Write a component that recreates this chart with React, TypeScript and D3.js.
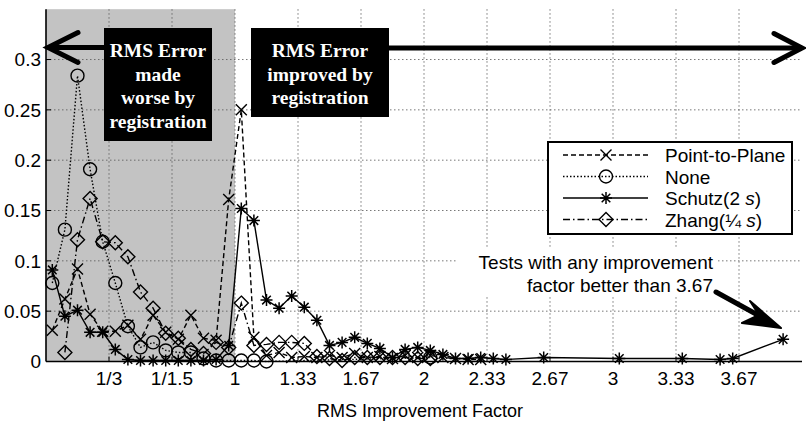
import React from 'react';
import * as d3 from 'd3';

const W = 806;
const H = 426;

// x axis: position units, ticks at 1..11
const xTickPos = [1, 2, 3, 4, 5, 6, 7, 8, 9, 10, 11];
const xTickLabels = ['1/3', '1/1.5', '1', '1.33', '1.67', '2', '2.33', '2.67', '3', '3.33', '3.67'];
const yTicks = [0, 0.05, 0.1, 0.15, 0.2, 0.25, 0.3];
const yTickLabels = ['0', '0.05', '0.1', '0.15', '0.2', '0.25', '0.3'];
const BIN_WIDTH = 0.2;

// [bin index, fraction of tests]
const pointToPlane: [number, number][] = [
  [0, 0.031], [1, 0.062], [2, 0.092], [3, 0.047], [4, 0.030], [5, 0.030], [6, 0.036], [7, 0.022],
  [8, 0.046], [9, 0.029], [10, 0.022], [11, 0.046], [12, 0.023], [13, 0.021], [14, 0.161], [15, 0.250],
  [16, 0.024], [17, 0.006], [18, 0.009], [19, 0.004], [20, 0.005], [21, 0.004], [22, 0.006], [23, 0.004],
  [24, 0.008], [25, 0.004], [26, 0.005], [27, 0.003], [28, 0.006], [29, 0.004], [30, 0.006], [31, 0.004],
  [32, 0.003], [33, 0.002], [34, 0.002],
];
const none: [number, number][] = [
  [0, 0.078], [1, 0.131], [2, 0.284], [3, 0.191], [4, 0.119], [5, 0.078], [6, 0.035], [7, 0.014],
  [8, 0.019], [9, 0.011], [10, 0.009], [11, 0.009], [12, 0.003], [13, 0.001], [14, 0.001], [15, 0.001],
  [16, 0.001], [17, 0.0], [30, 0.004],
];
const schutz: [number, number][] = [
  [0, 0.091], [1, 0.045], [2, 0.051], [3, 0.029], [4, 0.029], [5, 0.012], [6, 0.002], [7, 0.001],
  [8, 0.001], [9, 0.001], [10, 0.001], [11, 0.001], [12, 0.001], [13, 0.002], [14, 0.016], [15, 0.152],
  [16, 0.140], [17, 0.061], [18, 0.053], [19, 0.065], [20, 0.054], [21, 0.041], [22, 0.016], [23, 0.019],
  [24, 0.024], [25, 0.018], [26, 0.013], [27, 0.004], [28, 0.012], [29, 0.014], [30, 0.011], [31, 0.007],
  [32, 0.003], [33, 0.003], [34, 0.004], [35, 0.003], [36, 0.002], [39, 0.004], [45, 0.003], [50, 0.003],
  [53, 0.002], [54, 0.003], [58, 0.022],
];
const zhang: [number, number][] = [
  [1, 0.009], [2, 0.121], [3, 0.162], [4, 0.119], [5, 0.118], [6, 0.104], [7, 0.069], [8, 0.053],
  [9, 0.028], [10, 0.023], [11, 0.012], [12, 0.008], [13, 0.019], [14, 0.014], [15, 0.058], [16, 0.016],
  [17, 0.017], [18, 0.019], [19, 0.019], [20, 0.018], [21, 0.005], [22, 0.003], [23, 0.001], [24, 0.004],
  [25, 0.004], [26, 0.004], [27, 0.004], [28, 0.004], [29, 0.003], [30, 0.003],
];

type MarkerType = 'x' | 'o' | 'star' | 'diamond';
const seriesList: { name: string; data: [number, number][]; dash: string; marker: MarkerType }[] = [
  { name: 'Point-to-Plane', data: pointToPlane, dash: '5,3', marker: 'x' },
  { name: 'None', data: none, dash: '1.5,2', marker: 'o' },
  { name: 'Schutz', data: schutz, dash: '', marker: 'star' },
  { name: 'Zhang', data: zhang, dash: '7,3,1.5,3', marker: 'diamond' },
];

const SANS = 'Liberation Sans, Arial, sans-serif';
const SERIF = 'Liberation Serif, Times New Roman, serif';

const x = d3.scaleLinear().domain([0, 12]).range([46, 802]);
const y = d3.scaleLinear().domain([0, 0.35]).range([361.5, 9.2]);
const binCenter = (k: number) => (k + 0.5) * BIN_WIDTH;

function Marker({ type, cx, cy }: { type: MarkerType; cx: number; cy: number }) {
  const sw = 1.4;
  if (type === 'x') {
    const s = 5.5;
    return (
      <path d={`M${cx - s},${cy - s}L${cx + s},${cy + s}M${cx - s},${cy + s}L${cx + s},${cy - s}`} stroke="#000" strokeWidth={sw} fill="none" />
    );
  }
  if (type === 'o') {
    return <circle cx={cx} cy={cy} r={6.5} stroke="#000" strokeWidth={sw} fill="none" />;
  }
  if (type === 'star') {
    const s = 6;
    const d = 4.3;
    return (
      <path
        d={`M${cx - s},${cy}L${cx + s},${cy}M${cx},${cy - s}L${cx},${cy + s}M${cx - d},${cy - d}L${cx + d},${cy + d}M${cx - d},${cy + d}L${cx + d},${cy - d}`}
        stroke="#000" strokeWidth={1.5} fill="none"
      />
    );
  }
  const s = 7;
  return (
    <path d={`M${cx},${cy - s}L${cx + s},${cy}L${cx},${cy + s}L${cx - s},${cy}Z`} stroke="#000" strokeWidth={sw} fill="none" />
  );
}

export default function App() {
  const line = d3
    .line<[number, number]>()
    .x((d) => x(binCenter(d[0])))
    .y((d) => y(d[1]));

  const plotTop = y(0.35);
  const plotBottom = y(0);
  const plotLeft = x(0);
  const plotRight = x(12);

  const legendRows = [155, 176.5, 198, 219.5];

  return (
    <svg width={W} height={H} style={{ position: 'absolute', left: 0, top: 0, background: '#fff' }}>
      <rect x={0} y={0} width={W} height={H} fill="#fff" />
      {/* shaded region: worse by registration */}
      <rect x={plotLeft} y={plotTop} width={x(3) - plotLeft} height={plotBottom - plotTop} fill="#c3c3c3" />

      {/* grid */}
      {xTickPos.map((t) => (
        <line key={'gx' + t} x1={x(t)} x2={x(t)} y1={plotTop} y2={plotBottom} stroke="#555" strokeWidth={0.8} strokeDasharray="1.5,2.5" />
      ))}
      {yTicks.slice(1).map((t) => (
        <line key={'gy' + t} x1={plotLeft} x2={plotRight} y1={y(t)} y2={y(t)} stroke="#555" strokeWidth={0.8} strokeDasharray="1.5,2.5" />
      ))}

      {/* annotation text background */}
      <rect x={457} y={249} width={260} height={48} fill="#fff" />

      {/* series */}
      {seriesList.map((s) => (
        <path key={s.name} d={line(s.data) || ''} fill="none" stroke="#000" strokeWidth={1.4} strokeDasharray={s.dash || undefined} />
      ))}
      {seriesList.map((s) =>
        s.data.map((d, i) => <Marker key={s.name + i} type={s.marker} cx={x(binCenter(d[0]))} cy={y(d[1])} />)
      )}

      {/* axes */}
      <line x1={plotLeft} x2={plotRight} y1={plotBottom} y2={plotBottom} stroke="#000" strokeWidth={1.6} />
      <line x1={plotLeft} x2={plotLeft} y1={plotTop} y2={plotBottom} stroke="#000" strokeWidth={1.6} />
      {xTickPos.map((t) => (
        <line key={'tx' + t} x1={x(t)} x2={x(t)} y1={plotBottom} y2={plotBottom - 5} stroke="#000" strokeWidth={1} />
      ))}
      {yTicks.map((t) => (
        <line key={'ty' + t} x1={plotLeft} x2={plotLeft + 5} y1={y(t)} y2={y(t)} stroke="#000" strokeWidth={1} />
      ))}
      {xTickPos.map((t, i) => (
        <text key={'lx' + t} x={x(t)} y={385} textAnchor="middle" fontFamily={SANS} fontSize={19} fill="#000">
          {xTickLabels[i]}
        </text>
      ))}
      {yTicks.map((t, i) => (
        <text key={'ly' + t} x={41} y={y(t) + 6.8} textAnchor="end" fontFamily={SANS} fontSize={19} fill="#000">
          {yTickLabels[i]}
        </text>
      ))}
      <text x={420} y={417} textAnchor="middle" fontFamily={SANS} fontSize={18} fill="#000">
        RMS Improvement Factor
      </text>

      {/* arrows */}
      <line x1={48} x2={110} y1={47.5} y2={47.5} stroke="#000" strokeWidth={5} />
      <polyline points="78,32.5 48,47.5 78,62.5" fill="none" stroke="#000" strokeWidth={5} strokeLinecap="round" strokeLinejoin="miter" />
      <line x1={385} x2={801} y1={48} y2={48} stroke="#000" strokeWidth={5} />
      <polyline points="774,33.5 802,48 774,62.5" fill="none" stroke="#000" strokeWidth={5} strokeLinecap="round" strokeLinejoin="miter" />

      {/* black boxes */}
      <rect x={104} y={28} width={108} height={113} fill="#000" />
      {['RMS Error', 'made', 'worse by', 'registration'].map((t, i) => (
        <text key={'b1' + i} x={158} y={57 + i * 23.5} textAnchor="middle" fontFamily={SERIF} fontWeight="bold" fontSize={19.5} fill="#fff">
          {t}
        </text>
      ))}
      <rect x={251} y={28} width={138} height={89} fill="#000" />
      {['RMS Error', 'improved by', 'registration'].map((t, i) => (
        <text key={'b2' + i} x={320} y={57 + i * 23.5} textAnchor="middle" fontFamily={SERIF} fontWeight="bold" fontSize={19.5} fill="#fff">
          {t}
        </text>
      ))}

      {/* legend */}
      <rect x={548} y={142} width={244} height={92} fill="#fff" stroke="#000" strokeWidth={2} />
      {seriesList.map((s, i) => (
        <g key={'lg' + s.name}>
          <line x1={563} x2={648} y1={legendRows[i]} y2={legendRows[i]} stroke="#000" strokeWidth={1.4} strokeDasharray={s.dash || undefined} />
          <Marker type={s.marker} cx={606} cy={legendRows[i]} />
        </g>
      ))}
      <text x={665} y={legendRows[0] + 7} fontFamily={SANS} fontSize={19} fill="#000">Point-to-Plane</text>
      <text x={665} y={legendRows[1] + 7} fontFamily={SANS} fontSize={19} fill="#000">None</text>
      <text x={665} y={legendRows[2] + 7} fontFamily={SANS} fontSize={19} fill="#000">
        Schutz(2 <tspan fontStyle="italic">s</tspan>)
      </text>
      <text x={665} y={legendRows[3] + 7} fontFamily={SANS} fontSize={19} fill="#000">
        Zhang(¼ <tspan fontStyle="italic">s</tspan>)
      </text>

      {/* annotation */}
      <text x={713} y={268.5} textAnchor="end" fontFamily={SANS} fontSize={19} fill="#000">Tests with any improvement</text>
      <text x={713} y={292} textAnchor="end" fontFamily={SANS} fontSize={19} fill="#000">factor better than 3.67</text>
      <line x1={716} y1={292} x2={765} y2={319} stroke="#000" strokeWidth={5} strokeLinecap="round" />
      <path d="M781,328 L750,301 L759,315 L742,323 Z" fill="#000" stroke="#000" strokeWidth={2} strokeLinejoin="round" />
    </svg>
  );
}
